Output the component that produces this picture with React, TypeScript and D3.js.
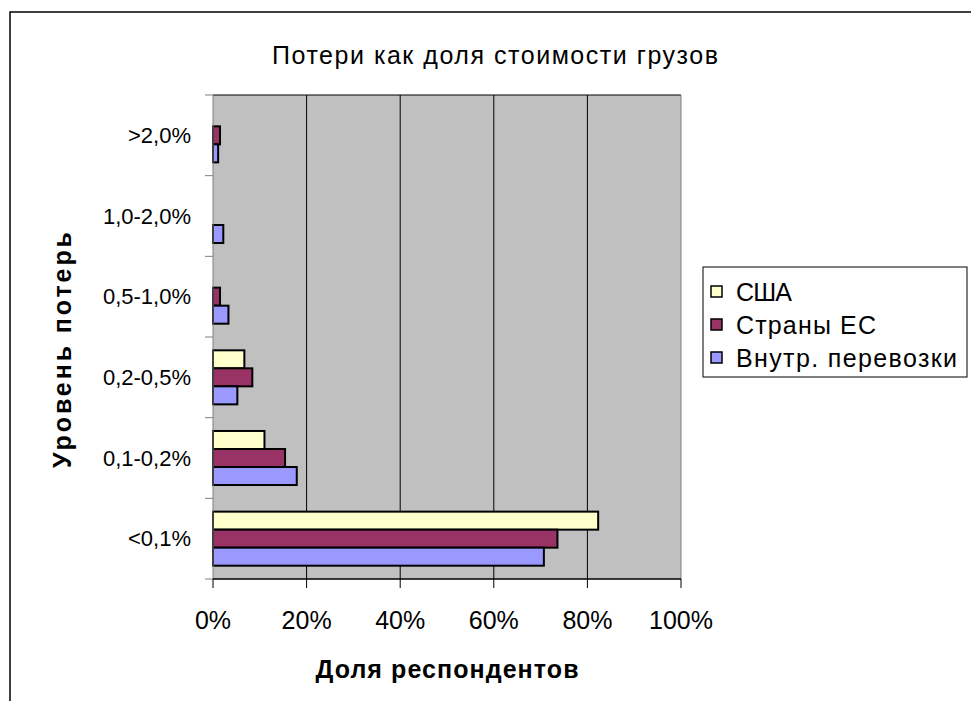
import * as d3 from "d3";

const categories = [">2,0%", "1,0-2,0%", "0,5-1,0%", "0,2-0,5%", "0,1-0,2%", "<0,1%"];
const seriesNames = ["США", "Страны ЕС", "Внутр. перевозки"];
const usa = [0, 0, 0, 6.7, 11.0, 82.3];
const eu = [1.5, 0, 1.5, 8.4, 15.4, 73.6];
const domestic = [1.1, 2.2, 3.3, 5.2, 17.9, 70.7];
const xTicks = [0, 20, 40, 60, 80, 100];
const colors = ["#FFFFCC", "#993366", "#9999FF"];

const W = 971;
const H = 701;
const font = "'Liberation Sans', Arial, sans-serif";

// the original's text runs a little wider than Liberation Sans, so long labels get a fixed length
const legendLengths = [56, 140, 221];

export default function App() {
  const plot = { left: 213, right: 681, top: 95, bottom: 579 };

  const x = d3.scaleLinear().domain([0, 100]).range([plot.left, plot.right]);
  const y = d3
    .scaleBand<string>()
    .domain(categories)
    .range([plot.top, plot.bottom])
    .paddingInner(0.33)
    .paddingOuter(0.165);
  const ySeries = d3
    .scaleBand<string>()
    .domain(seriesNames)
    .range([0, y.bandwidth()]);

  const allSeries = [usa, eu, domestic];

  return (
    <svg
      width={W}
      height={H}
      style={{ position: "absolute", left: 0, top: 0, fontFamily: font }}
    >
      <rect x={0} y={0} width={W} height={H} fill="white" />
      {/* outer chart border */}
      <rect x={10} y={12} width={W + 20} height={H + 20} fill="none" stroke="#000" strokeWidth={1.5} />

      <text x={495} y={64} fontSize={25} textAnchor="middle" textLength={446} lengthAdjust="spacing">
        Потери как доля стоимости грузов
      </text>

      {/* plot area */}
      <rect
        x={plot.left}
        y={plot.top}
        width={plot.right - plot.left}
        height={plot.bottom - plot.top}
        fill="#C0C0C0"
      />
      <line x1={plot.left} x2={plot.right} y1={plot.top} y2={plot.top} stroke="#000" />
      <line x1={plot.right} x2={plot.right} y1={plot.top} y2={plot.bottom} stroke="#808080" />
      {xTicks.slice(1, -1).map((t) => (
        <line key={t} x1={x(t)} x2={x(t)} y1={plot.top} y2={plot.bottom} stroke="#000" />
      ))}

      {/* bars */}
      {categories.map((c, i) =>
        allSeries.map((s, j) =>
          s[i] > 0 ? (
            <rect
              key={c + j}
              x={x(0)}
              y={(y(c) ?? 0) + (ySeries(seriesNames[j]) ?? 0)}
              width={x(s[i]) - x(0)}
              height={ySeries.bandwidth()}
              fill={colors[j]}
              stroke="#000"
              strokeWidth={2}
            />
          ) : null
        )
      )}

      {/* y axis */}
      <line x1={plot.left} x2={plot.left} y1={plot.top} y2={plot.bottom} stroke="#808080" />
      {d3.range(categories.length + 1).map((k) => {
        const yy = plot.top + k * y.step();
        return <line key={k} x1={plot.left - 8} x2={plot.left} y1={yy} y2={yy} stroke="#808080" />;
      })}
      {categories.map((c) => (
        <text
          key={c}
          x={191}
          y={(y(c) ?? 0) + y.bandwidth() / 2}
          fontSize={22}
          textAnchor="end"
          dominantBaseline="central"
        >
          {c}
        </text>
      ))}

      {/* x axis */}
      <line x1={plot.left} x2={plot.right} y1={plot.bottom} y2={plot.bottom} stroke="#000" strokeWidth={1.5} />
      {xTicks.map((t) => (
        <g key={t}>
          <line x1={x(t)} x2={x(t)} y1={plot.bottom} y2={plot.bottom + 9} stroke="#000" />
          <text x={x(t)} y={629} fontSize={25} textAnchor="middle">
            {t}%
          </text>
        </g>
      ))}

      <text
        x={447}
        y={678}
        fontSize={25}
        fontWeight="bold"
        textAnchor="middle"
        textLength={263}
        lengthAdjust="spacing"
      >
        Доля респондентов
      </text>
      <text
        transform="translate(71,350) rotate(-90)"
        fontSize={25}
        fontWeight="bold"
        textAnchor="middle"
        textLength={236}
        lengthAdjust="spacing"
      >
        Уровень потерь
      </text>

      {/* legend */}
      <rect x={703} y={267} width={264} height={110} fill="white" stroke="#000" />
      {seriesNames.map((name, j) => {
        const cy = 292 + j * 33;
        return (
          <g key={name}>
            <rect x={711} y={cy - 6} width={11} height={11} fill={colors[j]} stroke="#000" strokeWidth={1.5} />
            <text
              x={736}
              y={cy}
              fontSize={25}
              dominantBaseline="central"
              textLength={legendLengths[j]}
              lengthAdjust="spacing"
            >
              {name}
            </text>
          </g>
        );
      })}
    </svg>
  );
}
